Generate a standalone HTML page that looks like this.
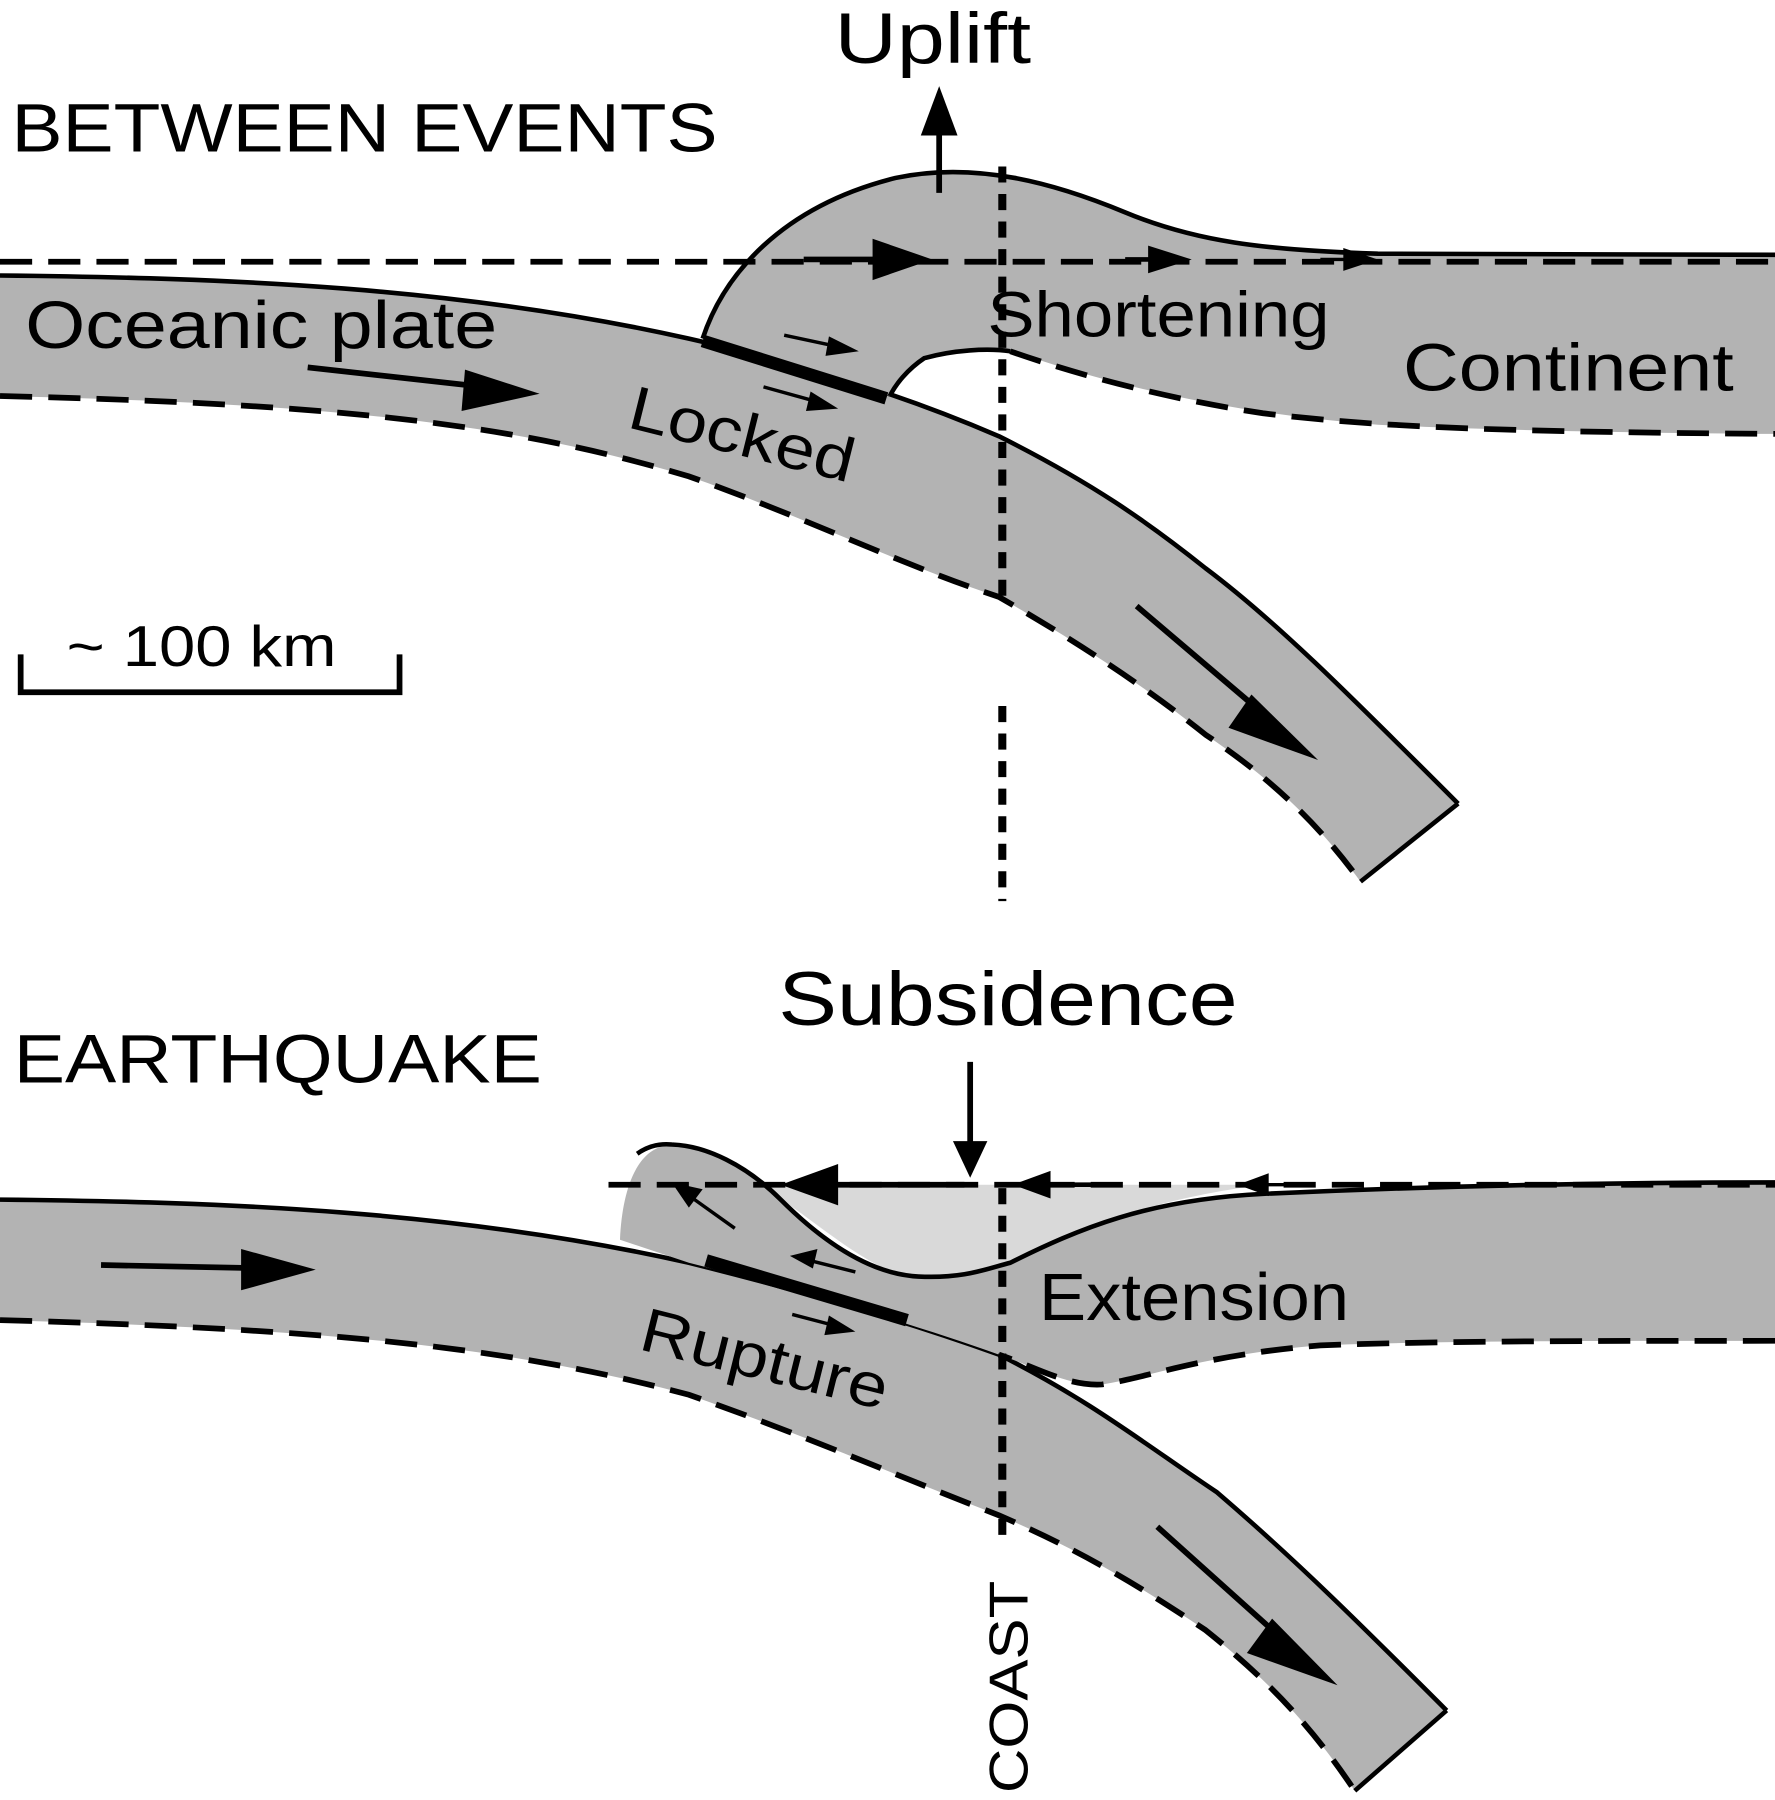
<!DOCTYPE html>
<html><head><meta charset="utf-8"><style>
html,body{margin:0;padding:0;background:#fff}
svg{display:block}
text{font-family:"Liberation Sans",sans-serif;fill:#000}
</style></head><body>
<svg width="1775" height="1800" viewBox="0 0 1546 1568" preserveAspectRatio="none" xmlns="http://www.w3.org/2000/svg">

<!-- TOP PANEL -->
<g>
<path d="M0,240 C200,242 400,250 600,295 C720,322 800,350 870,380 C950,420 1000,455 1050,495 C1110,540 1170,600 1270,700 L1185,768 C1150,720 1110,680 1050,640 C1000,600 940,560 870,520 C780,490 700,450 600,415 C450,370 300,352 0,345 Z" fill="#b3b3b3" stroke="none"/>
<path d="M0,240 C200,242 400,250 600,295 C720,322 800,350 870,380 C950,420 1000,455 1050,495 C1110,540 1170,600 1270,700" fill="none" stroke="#000" stroke-width="4"/>
<path d="M1270,700 L1185,768" stroke="#000" stroke-width="4"/>
<path d="M0,345 C300,352 450,370 600,415 C700,450 780,490 870,520 C940,560 1000,600 1050,640 C1110,680 1150,720 1185,768" fill="none" stroke="#000" stroke-width="5" stroke-dasharray="28,14"/>

<path d="M612,295 C630,240 680,180 780,155 C850,140 920,160 980,185 C1040,210 1100,218 1200,221 L1546,222 L1546,378 C1400,377 1280,374 1200,370 C1100,362 1000,345 900,312 C870,302 830,305 805,312 C790,322 780,335 775,345 Z" fill="#b3b3b3"/>
<path d="M612,295 C630,240 680,180 780,155 C850,140 920,160 980,185 C1040,210 1100,218 1200,221 L1546,222" fill="none" stroke="#000" stroke-width="4"/>
<path d="M775,345 C780,335 790,322 805,312 C830,305 860,303 880,306" fill="none" stroke="#000" stroke-width="4"/>
<path d="M880,306 C920,320 1000,345 1100,360 C1200,372 1300,376 1546,378" fill="none" stroke="#000" stroke-width="5" stroke-dasharray="28,14"/>
<path d="M612,297 L772,347" stroke="#000" stroke-width="11"/>
<path d="M0,228 L1546,228" stroke="#000" stroke-width="5" stroke-dasharray="28,14"/>
<path d="M873,145 L873,525" stroke="#000" stroke-width="7" stroke-dasharray="14,10"/>
<path d="M873,615 L873,785" stroke="#000" stroke-width="7" stroke-dasharray="14,10"/>
<path d="M818,168 L818,105" stroke="#000" stroke-width="5"/>
<path d="M818,75 L802,118 L834,118 Z" fill="#000"/>
<path d="M700,226 L780,226" stroke="#000" stroke-width="5"/><path d="M812,226 L760,208 L760,244 Z" fill="#000"/>
<path d="M980,226 L1010,226" stroke="#000" stroke-width="4"/><path d="M1038,226 L1000,214 L1000,238 Z" fill="#000"/>
<path d="M1150,226 L1175,226" stroke="#000" stroke-width="3"/><path d="M1200,226 L1170,216 L1170,236 Z" fill="#000"/>
<path d="M268,320 L430,338" stroke="#000" stroke-width="5"/><path d="M470,343 L405,322 L402,358 Z" fill="#000"/>
<path d="M683,292 L730,302" stroke="#000" stroke-width="3"/><path d="M748,306 L722,293 L719,310 Z" fill="#000"/>
<path d="M665,337 L712,350" stroke="#000" stroke-width="3"/><path d="M730,356 L706,341 L702,358 Z" fill="#000"/>
<path d="M990,528 L1110,630" stroke="#000" stroke-width="5"/><path d="M1148,662 L1090,605 L1070,634 Z" fill="#000"/>
<text x="727" y="55" font-size="62" textLength="171" lengthAdjust="spacingAndGlyphs">Uplift</text>
<text x="10" y="132" font-size="60" textLength="615" lengthAdjust="spacingAndGlyphs">BETWEEN EVENTS</text>
<text x="22" y="303" font-size="58" textLength="411" lengthAdjust="spacingAndGlyphs">Oceanic plate</text>
<text x="860" y="293" font-size="56" textLength="298" lengthAdjust="spacingAndGlyphs">Shortening</text>
<text x="1222" y="340" font-size="58" textLength="288" lengthAdjust="spacingAndGlyphs">Continent</text>
<text x="545" y="372" font-size="54" transform="rotate(14 545 372)" textLength="200" lengthAdjust="spacingAndGlyphs">Locked</text>
<text x="58" y="580" font-size="50" textLength="235" lengthAdjust="spacingAndGlyphs">~ 100 km</text>
<path d="M18,570 L18,603 L348,603 L348,570" fill="none" stroke="#000" stroke-width="5"/>
</g>

<!-- BOTTOM PANEL -->
<g>
<path d="M0,1045 C200,1047 400,1055 600,1100 C720,1130 800,1155 870,1180 C950,1220 1000,1260 1060,1300 C1130,1360 1190,1420 1260,1490 L1180,1560 C1140,1500 1100,1460 1050,1420 C990,1380 940,1350 870,1320 C780,1285 700,1250 600,1215 C450,1175 300,1158 0,1150 Z" fill="#b3b3b3"/>
<path d="M0,1045 C200,1047 400,1055 600,1100 C720,1130 800,1155 870,1180 C950,1220 1000,1260 1060,1300 C1130,1360 1190,1420 1260,1490" fill="none" stroke="#000" stroke-width="4"/>
<path d="M1260,1490 L1180,1560" stroke="#000" stroke-width="4"/>
<path d="M0,1150 C300,1158 450,1175 600,1215 C700,1250 780,1285 870,1320 C940,1350 990,1380 1050,1420 C1100,1460 1140,1500 1180,1560" fill="none" stroke="#000" stroke-width="5" stroke-dasharray="28,14"/>
<path d="M660,1032 L1100,1032 C1000,1045 940,1070 880,1100 C840,1112 800,1115 770,1105 C730,1085 700,1055 660,1032 Z" fill="#d9d9d9"/>
<path d="M540,1080 C542,1035 555,1002 580,998 C615,995 650,1015 680,1045 C720,1085 760,1110 800,1112 C840,1114 860,1105 880,1100 C940,1070 1000,1045 1100,1040 C1250,1033 1400,1030 1546,1030 L1546,1168 C1400,1168 1250,1168 1150,1172 C1050,1180 1000,1200 960,1206 C930,1208 900,1190 870,1180 C800,1155 700,1125 600,1100 Z" fill="#b3b3b3"/>
<path d="M555,1005 C565,998 575,996 585,997 C615,998 650,1015 680,1045 C720,1085 760,1110 800,1112 C840,1114 860,1105 880,1100 C940,1070 1000,1045 1100,1040 C1250,1033 1400,1030 1546,1030" fill="none" stroke="#000" stroke-width="4"/>
<path d="M1546,1168 C1400,1168 1250,1168 1150,1172 C1050,1180 1000,1200 960,1206 C930,1208 900,1190 870,1180" fill="none" stroke="#000" stroke-width="5" stroke-dasharray="28,14"/>
<path d="M615,1098 L790,1150" stroke="#000" stroke-width="11"/>
<path d="M530,1032 L1546,1032" stroke="#000" stroke-width="5" stroke-dasharray="28,14"/>
<path d="M873,1035 L873,1340" stroke="#000" stroke-width="7" stroke-dasharray="14,10"/>
<path d="M845,925 L845,1000" stroke="#000" stroke-width="5"/><path d="M845,1026 L830,994 L860,994 Z" fill="#000"/>
<path d="M840,1032 L710,1032" stroke="#000" stroke-width="5"/><path d="M680,1032 L730,1014 L730,1050 Z" fill="#000"/>
<path d="M960,1032 L905,1032" stroke="#000" stroke-width="4"/><path d="M882,1032 L915,1020 L915,1044 Z" fill="#000"/>
<path d="M1140,1032 L1100,1032" stroke="#000" stroke-width="3"/><path d="M1078,1032 L1105,1022 L1105,1042 Z" fill="#000"/>
<path d="M640,1070 L605,1045" stroke="#000" stroke-width="3"/><path d="M585,1030 L612,1036 L600,1052 Z" fill="#000"/>
<path d="M745,1108 L705,1098" stroke="#000" stroke-width="3"/><path d="M688,1094 L712,1088 L708,1105 Z" fill="#000"/>
<path d="M690,1145 L728,1155" stroke="#000" stroke-width="3"/><path d="M745,1160 L722,1146 L718,1163 Z" fill="#000"/>
<path d="M88,1102 L240,1105" stroke="#000" stroke-width="5"/><path d="M275,1106 L210,1088 L210,1124 Z" fill="#000"/>
<path d="M1008,1330 L1125,1435" stroke="#000" stroke-width="5"/><path d="M1165,1468 L1108,1410 L1086,1440 Z" fill="#000"/>
<text x="678" y="893" font-size="66" textLength="400" lengthAdjust="spacingAndGlyphs">Subsidence</text>
<text x="12" y="943" font-size="60" textLength="460" lengthAdjust="spacingAndGlyphs">EARTHQUAKE</text>
<text x="905" y="1150" font-size="58" textLength="270" lengthAdjust="spacingAndGlyphs">Extension</text>
<text x="555" y="1175" font-size="54" transform="rotate(14 555 1175)" textLength="220" lengthAdjust="spacingAndGlyphs">Rupture</text>
<text x="0" y="0" font-size="48" transform="translate(895,1562) rotate(-90)" textLength="185" lengthAdjust="spacingAndGlyphs">COAST</text>
</g>
</svg>
</body></html>
